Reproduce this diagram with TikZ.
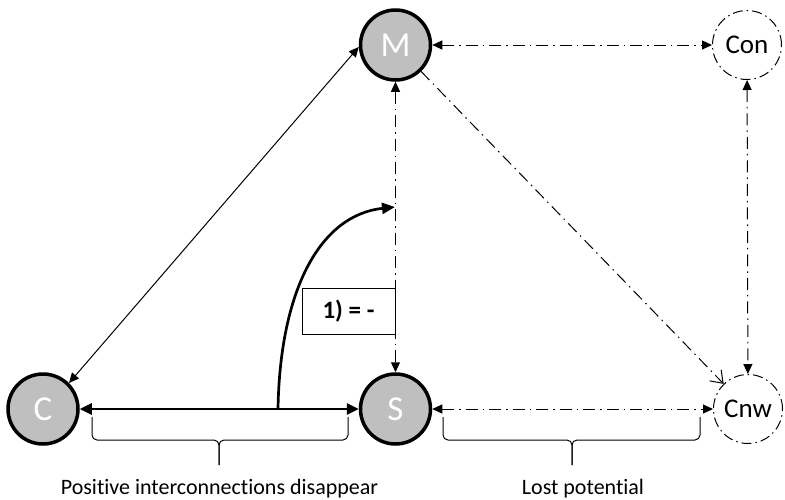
\documentclass[tikz,border=0pt]{standalone}
\usepackage{fontspec}
\setmainfont{Carlito}[Ligatures=NoCommon]
\usetikzlibrary{arrows.meta}
\definecolor{actorgray}{RGB}{191,191,191}

\begin{document}
\begin{tikzpicture}[x=1pt, y=-1pt,
  every node/.style={font=\fontsize{22}{26}\selectfont},
  actor/.style={circle, draw, line width=3.5pt, fill=actorgray, minimum size=70pt, inner sep=0pt, text=white, font=\fontsize{35}{38}\selectfont},
  latent/.style={circle, draw, line width=1pt, dashdot, minimum size=69pt, inner sep=0pt, font=\fontsize{27}{30}\selectfont},
  dashdot/.style={dash pattern=on 10pt off 4pt on 1.5pt off 4pt},
  link/.style={line width=1pt, {Triangle[length=10pt,width=9pt]}-{Triangle[length=10pt,width=9pt]}},
  dlink/.style={link, dash pattern=on 12pt off 5pt on 1.5pt off 5pt},
  strong/.style={line width=2.7pt, {Triangle[length=12pt,width=11pt]}-{Triangle[length=12pt,width=11pt]}},
  brace/.style={line width=1pt, rounded corners=5pt}]
\useasboundingbox (0,0) rectangle (785,499);

\node[actor] (M) at (395.5,45) {M};
\node[actor] (C) at (43,409) {C};
\node[actor] (S) at (395.5,409) {S};
\node[latent] (Con) at (747,45) {Con};
\node[latent] (Cnw) at (748,409) {Cnw};

\draw[link] (M.183) -- (C.45);
\draw[dlink] (M) -- (Con);
\draw[dlink] (M) -- (S);
\draw[dlink] (Con) -- (Cnw);
\draw[dlink] (S) -- (Cnw);
\draw[line width=1pt, dash pattern=on 12pt off 5pt on 1.5pt off 5pt, -{Straight Barb[length=11pt,width=16pt]}] (M) -- (Cnw);
\draw[strong] (C) -- (S);

% the change of C-S
\node[draw, line width=0.8pt, minimum width=93pt, minimum height=46pt, inner sep=0pt, font=\bfseries\fontsize{25}{29}\selectfont] (rule) at (348.5,311) {1) = -};
\coordinate (base) at (278,409);
\coordinate (bend) at (395,207);
\draw[line width=2.7pt, -{Triangle[length=13pt,width=11pt]}] (base) .. controls (280,290) and (320,215) .. (bend);

% braces
\draw[brace] (92,417) -- (92,440) -- (219,440) -- (219,465);
\draw[brace] (348,417) -- (348,440) -- (219,440) -- (219,465);
\draw[brace] (443,417) -- (443,440) -- (572,440) -- (572,465);
\draw[brace] (700,417) -- (700,440) -- (572,440) -- (572,465);
\node[anchor=base] (gone) at (219.5,494) {Positive interconnections disappear};
\node[anchor=base] (lost) at (583,494) {Lost potential};
\end{tikzpicture}
\end{document}
